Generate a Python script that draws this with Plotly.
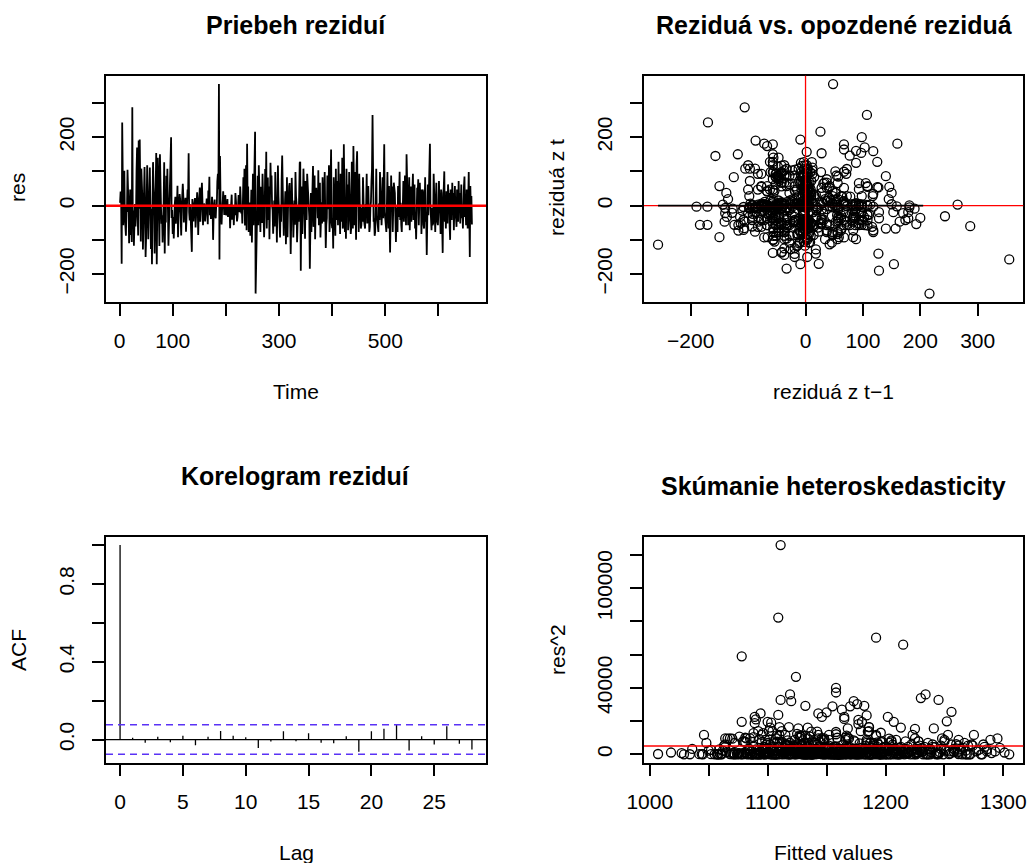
import numpy as np
import plotly.graph_objects as go

W, H = 1029, 863
FONT = "Liberation Sans, Arial, Helvetica, sans-serif"

# ---------------- data ----------------
res = [
    8, 41, 23, -170, 243, -31, -57, 12, 102, -33, -51, -88, -4, -18, 105, 66, -11, -110, -15, 47,
    -86, -3, -106, 287, -60, -14, -117, -73, 5, -61, -23, 103, 170, -22, -87, 190, -9, 193, -54, -105,
    108, 57, 18, -128, -21, -48, 113, 3, -150, -92, 2, 118, 34, -98, -6, 12, 111, -26, -127, -9,
    -171, -3, 127, 53, 18, -140, -7, 97, 154, -171, -56, 140, 86, -15, -118, 150, 4, -6, -53, -28,
    -108, -71, 11, 127, -140, -22, -49, 87, 4, 108, -1, -117, -56, 16, 27, 98, 200, -36, -13, -83,
    -33, -96, 6, 7, 26, -53, -11, 1, 58, -92, -24, 2, 34, 19, -14, -87, -5, 31, 64, 27,
    -49, -6, 3, 23, -76, -15, 9, 47, 28, 153, -19, -43, 4, -52, -41, -135, 19, -2, -46, -3,
    6, 22, -64, -27, 8, 39, 14, -86, -18, 41, 53, -47, -1, 33, 67, 13, -57, -19, 6, 0,
    -46, -27, 4, 21, -7, -54, 44, 15, 84, -28, -12, -39, -1, 26, 3, -100, -22, 10, 18, -32,
    -37, 5, 1, 71, 93, 48, 355, -157, 145, 19, -12, -55, -10, 3, 42, -2, -27, 15, 31, -24,
    -28, -8, 19, -33, -5, -14, 4, -66, -23, 18, 32, -41, -9, 1, -57, -5, -28, 37, 14, -19,
    -46, -33, 10, 31, 7, -19, 56, -4, -23, -3, -52, 2, 83, -12, 108, -58, -37, 118, -72, 181,
    1, 56, -77, -2, 9, -88, -19, 46, -108, -4, 93, -57, 78, 26, 216, -257, -114, -33, -8, 87,
    -57, 118, -3, -4, -77, 55, 10, -51, 93, 1, -66, -92, -33, 107, 2, 157, -67, -6, 82, -42,
    56, -98, -8, 125, 54, 88, -1, -14, -82, -47, 15, -61, 98, 3, 6, -108, -42, 117, 28, -11,
    -72, -93, 0, -47, 77, 146, 55, -28, -88, -5, -2, 42, -113, -51, 83, -92, -7, 5, 56, 66,
    -19, -141, -47, 81, 4, 3, -93, -61, 15, -56, 98, 28, 8, -107, -66, -1, -47, 88, 125, 128,
    -190, -3, 56, -83, 3, 108, 55, 2, -97, 72, 28, -42, 93, 66, 12, -19, -33, -184, -56, 37,
    -77, 1, -6, 116, -62, -19, 88, -98, -4, 52, 2, 28, -37, 103, -57, 7, 67, -93, -42, 10,
    -52, 83, 2, -47, 8, 98, -19, -124, -56, -37, 88, -10, -1, 118, -77, -42, 67, 164, -47, -66,
    -37, -125, 83, -2, -56, -88, 108, -42, -8, 72, -57, 128, -19, 6, -83, 93, 5, -47, 140, -67,
    -57, 179, -37, -77, -1, -97, 108, -28, 62, -72, -42, 98, -4, 4, -83, -62, 128, -37, -67, 174,
    -42, -57, 98, -56, -100, 118, 159, -2, 47, -77, 93, 1, 3, -67, -57, -6, -47, 83, -33, -42,
    -56, -67, 2, 4, 93, -52, -33, 57, -9, -77, -62, -5, 10, 72, 107, 265, 3, -47, -37, -88,
    -76, -2, 108, -28, -57, -47, -77, 6, -42, 98, 3, -52, -57, -4, 83, -37, 67, 179, -19, -42,
    -47, -77, 1, 98, -3, -67, 57, -42, -137, -33, 88, 7, 56, -77, -4, 67, 52, 37, -10, -106,
    -47, -5, -77, 57, -33, 67, 99, -42, 8, -56, -77, 2, -2, 72, -47, -3, 88, -33, -57, 150,
    37, 67, -57, -4, 83, -72, 4, 56, -47, 3, 12, 93, -42, -9, 62, -67, -37, -98, 28, 52,
    37, 77, -57, 1, 67, 5, 47, -83, -7, 47, 42, -56, -67, -2, 83, -47, -37, -144, 3, 62,
    -28, 88, 160, 181, -5, -47, -72, -6, -57, -52, 93, 2, -37, -77, 2, 67, -42, -52, -57, -11,
    72, -1, -4, -83, 47, 7, -57, -138, 37, 52, 100, -47, 4, -67, 42, -2, -52, 62, 28, 37,
    -57, -100, 47, -5, -42, 67, 9, 37, -72, 1, 57, -37, -33, -62, 47, -3, -47, 72, -2, 37,
    -52, -1, 62, -37, 3, -67, 42, 57, 85, -33, -8, -57, 47, 6, -67, 3, 98, -19, -150, 57,
    -12, 28, -55,
]

fitted = [
    1120, 1135, 1098, 1155, 1078, 1142, 1165, 1110, 1088, 1130, 1172, 1105, 1060, 1148, 1192, 1125, 1082, 1158, 1115, 1140,
    1095, 1178, 1132, 1109, 1150, 1068, 1185, 1122, 1104, 1160, 1138, 1076, 1170, 1145, 1112, 1119, 1198, 1158, 1090, 1128,
    1152, 1084, 1176, 1118, 1140, 1207, 1096, 1163, 1202, 1130, 1072, 1186, 1114, 1148, 1058, 1170, 1125, 1092, 1213, 1137,
    1132, 1160, 1102, 1188, 1143, 1180, 1118, 1066, 1109, 1182, 1154, 1078, 1196, 1127, 1101, 1146, 1174, 1087, 1139, 1208,
    1115, 1167, 1052, 1134, 1100, 1190, 1124, 1081, 1156, 1110, 1175, 1142, 1098, 1218, 1129, 1064, 1158, 1147, 1106, 1184,
    1136, 1093, 1170, 1045, 1122, 1203, 1161, 1079, 1150, 1117, 1226, 1089, 1144, 1173, 1007, 1108, 1131, 1192, 1155, 1070,
    1126, 1165, 1098, 1210, 1141, 1083, 1179, 1120, 1152, 1184, 1061, 1137, 1195, 1113, 1168, 1177, 1090, 1146, 1230, 1104,
    1157, 1074, 1189, 1128, 1099, 1166, 1213, 1139, 1085, 1172, 1118, 1050, 1153, 1198, 1123, 1094, 1181, 1142, 1107, 1235,
    1164, 1088, 1129, 1177, 1034, 1150, 1111, 1193, 1140, 1075, 1162, 1220, 1102, 1135, 1188, 1081, 1158, 1121, 1245, 1096,
    1169, 1132, 1204, 1115, 1147, 1083, 1111, 1094, 1090, 1175, 1138, 1059, 1183, 1124, 1161, 1107, 1215, 1143, 1071, 1190,
    1127, 1166, 1097, 1239, 1150, 1112, 1186, 1064, 1145, 1173, 1101, 1130, 1209, 1085, 1158, 1119, 1027, 1178, 1136, 1192,
    1105, 1160, 1142, 1080, 1201, 1125, 1168, 1093, 1255, 1133, 1117, 1187, 1072, 1154, 1223, 1099, 1140, 1179, 1063, 1111,
    1163, 1129, 1194, 1087, 1151, 1228, 1108, 1171, 1046, 1138, 1184, 1121, 1260, 1100, 1124, 1215, 1196, 1155, 1078, 1144,
    1176, 1092, 1130, 1207, 1116, 1162, 1069, 1190, 1148, 1236, 1104, 1173, 1018, 1127, 1181, 1143, 1110, 1199, 1134, 1086,
    1152, 1225, 1097, 1168, 1141, 1080, 1204, 1119, 1187, 1062, 1158, 1132, 1248, 1106, 1176, 1095, 1214, 1137, 1165, 1042,
    1183, 1123, 1148, 1268, 1102, 1165, 1139, 1076, 1197, 1156, 1113, 1222, 1088, 1174, 1131, 1205, 1057, 1160, 1119, 1242,
    1147, 1252, 1103, 1178, 1135, 1091, 1209, 1166, 1120, 1238, 1082, 1153, 1195, 1108, 1170, 1029, 1144, 1217, 1126, 1186,
    1234, 1161, 1096, 1190, 1123, 1275, 1145, 1071, 1203, 1132, 1180, 1114, 1250, 1098, 1167, 1218, 1139, 1230, 1085, 1175,
    1129, 1196, 1055, 1158, 1212, 1101, 1184, 1143, 1265, 1118, 1171, 1090, 1227, 1136, 1162, 1074, 1199, 1152, 1109, 1244,
    1140, 1187, 1116, 1232, 1094, 1168, 1127, 1225, 1150, 1065, 1205, 1134, 1177, 1112, 1283, 1146, 1097, 1163, 1189, 1122,
    1171, 1241, 1106, 1158, 1213, 1079, 1192, 1137, 1254, 1117, 1036, 1186, 1165, 1224, 1100, 1148, 1197, 1129, 1207, 1088,
    1154, 1173, 1231, 1115, 1186, 1070, 1143, 1219, 1126, 1262, 1094, 1169, 1201, 1138, 1048, 1179, 1110, 1246, 1156, 1176,
    1121, 1193, 1085, 1237, 1166, 1104, 1150, 1211, 1132, 1273, 1098, 1160, 1226, 1119, 1182, 1061, 1145, 1203, 1127, 1258,
    1174, 1108, 1221, 1140, 1289, 1093, 1185, 1152, 1234, 1116, 1198, 1077, 1163, 1247, 1129, 1192, 1212, 1103, 1170, 1138,
    1206, 1083, 1253, 1147, 1118, 1229, 1164, 1096, 1277, 1134, 1188, 1052, 1175, 1216, 1110, 1156, 1240, 1120, 1195, 1142,
    1263, 1125, 1184, 1068, 1232, 1149, 1204, 1111, 1089, 1171, 1250, 1132, 1196, 1099, 1281, 1158, 1123, 1219, 1075, 1167,
    1209, 1137, 1256, 1102, 1180, 1227, 1146, 1293, 1118, 1192, 1064, 1160, 1238, 1129, 1202, 1087, 1174, 1261, 1141, 1165,
    1215, 1097, 1183, 1249, 1135, 1270, 1158, 1112, 1224, 1189, 1044, 1166, 1231, 1126, 1297, 1151, 1198, 1107, 1244, 1178,
    1138, 1222, 1264, 1093, 1186, 1155, 1251, 1119, 1210, 1172, 1286, 1131, 1193, 1058, 1236, 1161, 1115, 1177, 1269, 1203,
    1144, 1228, 1256, 1245, 1109, 1182, 1274, 1153, 1217, 1126, 1262, 1195, 1081, 1240, 1167, 1284, 1136, 1206, 1258, 1173,
    1229, 1148, 1192, 1267, 1120, 1245, 1176, 1103, 1214, 1279, 1159, 1237, 1091, 1200, 1254, 1134, 1222, 1168, 1290, 1185,
    1247, 1127, 1213, 1271, 1162, 1233, 1098, 1258, 1189, 1305, 1141, 1226, 1176, 1266, 1117, 1243, 1208, 1152, 1282, 1197,
    1259, 1137, 1231, 1178, 1272, 1213, 1124, 1250, 1193, 1301, 1160, 1238, 1105, 1268, 1219, 1183, 1295, 1147, 1089, 1227,
    1262, 1207, 1286,
]

acf_lags = list(range(29))
acf_vals = [1.0, 0.009, -0.017, 0.014, -0.014, 0.020, -0.029, 0.014, 0.044, 0.020,
            0.012, -0.044, -0.010, 0.043, -0.009, 0.032, -0.017, -0.019, 0.017, -0.063,
            0.043, 0.056, 0.077, -0.056, 0.017, -0.026, 0.068, -0.022, -0.051]

hetero_level = 5000            # red reference line in the heteroskedasticity panel
lag_dark_x = [-257, 205]       # dark segment seen along y = 0 in the lag plot
lag_dark_y = [0, 0]

# tick specs
ts_xticks = [0, 100, 200, 300, 400, 500, 600]
ts_xlabels = ["0", "100", "", "300", "", "500", ""]
res_yticks = [-200, -100, 0, 100, 200, 300]
res_ylabels = ["\u2212200", "", "0", "", "200", ""]
lag_xticks = [-200, -100, 0, 100, 200, 300]
lag_xlabels = ["\u2212200", "", "0", "100", "200", "300"]
acf_xticks = [0, 5, 10, 15, 20, 25]
acf_xlabels = ["0", "5", "10", "15", "20", "25"]
acf_yticks = [0.0, 0.2, 0.4, 0.6, 0.8, 1.0]
acf_ylabels = ["0.0", "", "0.4", "", "0.8", ""]
het_xticks = [1000, 1050, 1100, 1150, 1200, 1250, 1300]
het_xlabels = ["1000", "", "1100", "", "1200", "", "1300"]
het_yticks = [0, 20000, 40000, 60000, 80000, 100000, 120000]
het_ylabels = ["0", "", "40000", "", "", "100000", ""]

# ---------------- derived ----------------
res_a = np.array(res, dtype=float)
time = np.arange(1, len(res_a) + 1)
lag_x = res_a[:-1]
lag_y = res_a[1:]
res2 = res_a ** 2
fit_a = np.array(fitted, dtype=float)
bound = 1.96 / np.sqrt(len(res_a))


def rng(v):
    lo, hi = float(np.min(v)), float(np.max(v))
    d = (hi - lo) * 0.04
    return [lo - d, hi + d]


def dom_x(a, b):
    return [a / W, b / W]


def dom_y(top, bottom):
    return [1 - bottom / H, 1 - top / H]


fig = go.Figure()

# panel 1: residual series
fig.add_trace(go.Scatter(x=time, y=res_a, mode="lines",
                         line=dict(color="black", width=1.8),
                         xaxis="x", yaxis="y", hoverinfo="skip"))
# panel 2: lag plot
fig.add_trace(go.Scatter(x=lag_x, y=lag_y, mode="markers",
                         marker=dict(symbol="circle-open", size=9, color="black",
                                     line=dict(width=1.3, color="black")),
                         xaxis="x2", yaxis="y2", hoverinfo="skip"))
# panel 3: ACF spikes
ax, ay = [], []
for l, v in zip(acf_lags, acf_vals):
    ax += [l, l, None]
    ay += [0, v, None]
fig.add_trace(go.Scatter(x=ax, y=ay, mode="lines",
                         line=dict(color="black", width=1.3),
                         xaxis="x3", yaxis="y3", hoverinfo="skip"))
# panel 4: heteroskedasticity
fig.add_trace(go.Scatter(x=fit_a, y=res2, mode="markers",
                         marker=dict(symbol="circle-open", size=9, color="black",
                                     line=dict(width=1.3, color="black")),
                         xaxis="x4", yaxis="y4", hoverinfo="skip"))

tickfont = dict(family=FONT, size=21, color="black")


def axis(domain, anchor, rng_, tv, tt, vertical=False):
    d = dict(domain=domain, anchor=anchor, range=rng_, tickmode="array",
             tickvals=tv, ticktext=tt, ticks="outside", ticklen=12, tickwidth=1.5,
             tickcolor="black", showline=True, linecolor="black", linewidth=1.5,
             mirror=True, showgrid=False, zeroline=False, tickfont=tickfont,
             fixedrange=True, automargin=False)
    if vertical:
        d["tickangle"] = -90
        d["ticklabelstandoff"] = 10
    else:
        d["ticklabelstandoff"] = 7
    return d


XL = dom_x(106, 486)
XR = dom_x(644, 1023.3)
YT = dom_y(75.7, 302)
YB = dom_y(536.7, 762.7)

fig.update_layout(
    width=W, height=H, margin=dict(l=0, r=0, t=0, b=0, autoexpand=False),
    paper_bgcolor="white", plot_bgcolor="white", showlegend=False,
    font=dict(family=FONT, color="black"),
    xaxis=axis(XL, "y", rng(time), ts_xticks, ts_xlabels),
    yaxis=axis(YT, "x", rng(res_a), res_yticks, res_ylabels, True),
    xaxis2=axis(XR, "y2", rng(lag_x), lag_xticks, lag_xlabels),
    yaxis2=axis(YT, "x2", rng(lag_y), res_yticks, res_ylabels, True),
    xaxis3=axis(XL, "y3", rng(acf_lags), acf_xticks, acf_xlabels),
    yaxis3=axis(YB, "x3", rng(acf_vals + [bound, -bound]), acf_yticks, acf_ylabels, True),
    xaxis4=axis(XR, "y4", rng(fit_a), het_xticks, het_xlabels),
    yaxis4=axis(YB, "x4", rng(res2), het_yticks, het_ylabels, True),
)

shapes = [
    dict(type="line", xref="x domain", yref="y", x0=0, x1=1, y0=0, y1=0,
         line=dict(color="red", width=2.5)),
    dict(type="line", xref="x2 domain", yref="y2", x0=0, x1=1, y0=0, y1=0,
         line=dict(color="red", width=1.3)),
    dict(type="line", xref="x2", yref="y2", x0=lag_dark_x[0], x1=lag_dark_x[1],
         y0=lag_dark_y[0], y1=lag_dark_y[1], line=dict(color="black", width=1.6)),
    dict(type="line", xref="x2", yref="y2 domain", x0=0, x1=0, y0=0, y1=1,
         line=dict(color="red", width=1.3)),
    dict(type="line", xref="x3 domain", yref="y3", x0=0, x1=1, y0=0, y1=0,
         line=dict(color="black", width=1.3)),
    dict(type="line", xref="x3 domain", yref="y3", x0=0, x1=1, y0=bound, y1=bound,
         line=dict(color="#5a32f5", width=1.5, dash="7px,5px")),
    dict(type="line", xref="x3 domain", yref="y3", x0=0, x1=1, y0=-bound, y1=-bound,
         line=dict(color="#5a32f5", width=1.5, dash="7px,5px")),
    dict(type="line", xref="x4 domain", yref="y4", x0=0, x1=1, y0=hetero_level, y1=hetero_level,
         line=dict(color="red", width=1.5)),
]
fig.update_layout(shapes=shapes)


def ann(text, x, y, size=21, bold=False, angle=0):
    return dict(text=text, x=x / W, y=1 - y / H, xref="paper", yref="paper",
                xanchor="center", yanchor="middle", showarrow=False, textangle=angle,
                font=dict(family=FONT, size=size, color="black",
                          weight="bold" if bold else "normal"))


anns = [
    ann("Priebeh reziduí", 296, 25, 25, True),
    ann("Reziduá vs. opozdené reziduá", 834, 25, 25, True),
    ann("Korelogram reziduí", 295, 476, 25, True),
    ann("Skúmanie heteroskedasticity", 833, 486, 25, True),
    ann("Time", 296, 392),
    ann("res", 18, 188, angle=-90),
    ann("reziduá z t\u22121", 833, 392),
    ann("reziduá z t", 557, 188, angle=-90),
    ann("Lag", 296, 852),
    ann("ACF", 18, 650, angle=-90),
    ann("Fitted values", 833, 852),
    ann("res^2", 557, 650, angle=-90),
]
fig.update_layout(annotations=anns)

fig.write_html("out.html")
